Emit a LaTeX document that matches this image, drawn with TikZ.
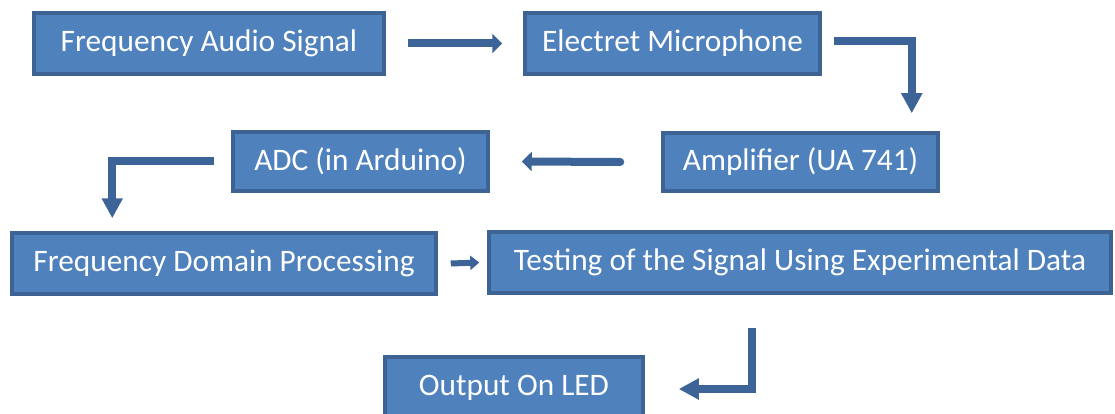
\documentclass[tikz,border=0pt]{standalone}
\usepackage{fontspec}
\setmainfont{Carlito}
\usepackage{xcolor}
\usetikzlibrary{arrows.meta}
\definecolor{boxfill}{HTML}{4F81BD}
\definecolor{boxline}{HTML}{3D6394}
\definecolor{flowblue}{HTML}{3C6498}

\begin{document}
\begin{tikzpicture}[x=1pt, y=-1pt,
  font=\fontsize{31.3}{36}\selectfont,
  blk/.style={rectangle, draw=boxline, fill=boxfill, line width=3.5pt, text=white, inner sep=0pt},
  flow/.style={draw=flowblue, line width=8pt, -{Triangle[length=10pt, width=19pt]}},
  elbow/.style={draw=flowblue, line width=8pt, -{Triangle[length=20pt, width=20pt]}},
  nudge/.style={draw=flowblue, line width=6pt, -{Triangle[length=9pt, width=14pt]}}
]
  \useasboundingbox (0,0) rectangle (1115,414);

  \node[blk, minimum width=350pt, minimum height=61pt] (src) at (209,43.5) {Frequency Audio Signal};
  \node[blk, minimum width=295pt, minimum height=61pt] (mic) at (672.5,43.5) {Electret Microphone};
  \node[blk, minimum width=275pt, minimum height=58pt] (amp) at (800.5,162) {Amplifier (UA 741)};
  \node[blk, minimum width=255pt, minimum height=59pt] (adc) at (360.5,161.5) {ADC (in Arduino)};
  \node[blk, minimum width=424pt, minimum height=61pt] (fdp) at (224,263.5) {Frequency Domain Processing};
  \node[blk, minimum width=622pt, minimum height=61pt] (test) at (800,262.5) {Testing of the Signal Using Experimental Data};
  \node[blk, minimum width=258pt, minimum height=61pt] (led) at (514,387.5) {Output On LED};

  \draw[flow] ([xshift=22pt]src.east) -- ([xshift=-21pt]mic.west);
  \draw[elbow] ([xshift=12pt,yshift=2pt]mic.east) -| ([xshift=-28pt,yshift=18pt]amp.north east);
  \draw[flow, line cap=round] ([xshift=-41pt]amp.west) -- ([xshift=32pt]adc.east);
  \draw[elbow] ([xshift=-17pt]adc.west) -| ([xshift=102pt,yshift=13pt]fdp.north west);
  \draw[nudge] ([xshift=13pt]fdp.east) -- ([xshift=-8pt]test.west);
  \draw[elbow] ([xshift=265pt,yshift=-33pt]test.south west) |- ([xshift=34pt,yshift=-1.5pt]led.east);
\end{tikzpicture}
\end{document}
